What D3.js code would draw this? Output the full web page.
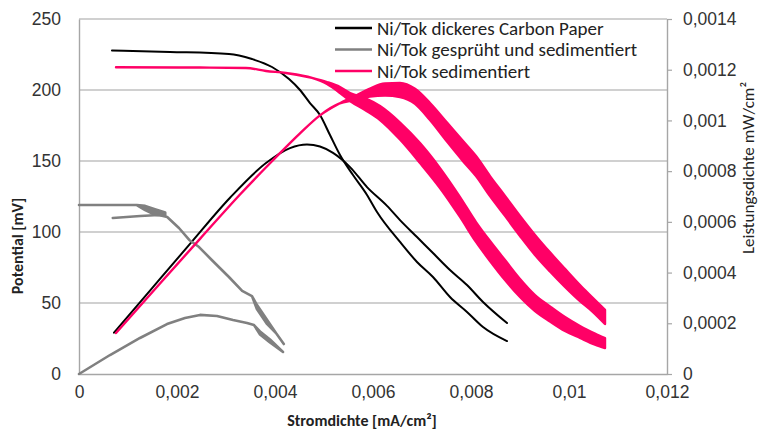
<!DOCTYPE html>
<html lang="de">
<head>
<meta charset="UTF-8">
<title>Ni/Tok Kennlinien</title>
<script src="https://d3js.org/d3.v7.min.js"></script>
<style>
  body { margin: 0; background: #fff; }
  svg { font-family: Carlito, Calibri, Lato, "Open Sans", sans-serif; }
  .tick text { font-size: 17.5px; fill: #333; }
  .title { font-size: 16px; fill: #222; }
  .legend text { font-size: 19px; fill: #222; }
</style>
</head>
<body>
<svg id="chart"></svg>
<script>
// tick values
const xTicks = [0, 0.002, 0.004, 0.006, 0.008, 0.01, 0.012];
const leftTicks = [0, 50, 100, 150, 200, 250];
const rightTicks = [0, 0.0002, 0.0004, 0.0006, 0.0008, 0.001, 0.0012, 0.0014];

const legendLabels = ["Ni/Tok dickeres Carbon Paper", "Ni/Tok gesprüht und sedimentiert", "Ni/Tok sedimentiert"];

// [Stromdichte mA/cm², Potential mV]
const blackPotential = [[0.000673,227.8],[0.001857,226.8],[0.003061,225.4],[0.003531,221.8],[0.003939,216.2],
  [0.004286,207.7],[0.00451,200],[0.004714,190.8],[0.004918,182.4],[0.005122,168.3],[0.005327,154.2],
  [0.005592,140.1],[0.005878,126.1],[0.006082,114.1],[0.006551,93],[0.006898,78.9],[0.007224,68.3],
  [0.007571,54.2],[0.007918,43.7],[0.008245,33.1],[0.008735,23.2]];
// [Stromdichte, Leistungsdichte mW/cm²]
const blackPower = [[0.000714,0.000163],[0.001449,0.000329],[0.002265,0.000513],[0.003082,0.000695],
  [0.003816,0.000832],[0.004306,0.000891],[0.004653,0.000905],[0.004918,0.000897],[0.005184,0.000872],
  [0.005531,0.000816],[0.005878,0.000737],[0.006286,0.000663],[0.006551,0.000607],[0.006898,0.00054],
  [0.007224,0.000477],[0.007571,0.00041],[0.007918,0.000351],[0.008245,0.000284],[0.008735,0.000201]];

// grau: Leerlaufabschnitt und Hauptmessung, [Stromdichte, Wert, Streuung]
const grayPotentialOcv = [[0,119],[0.00118,119],[0.00135,116.9,1.5],[0.00155,114.1,2],[0.00176,112.7,1]];
const grayPotential = [[0.00069,109.9],[0.00125,111.3],[0.00163,112],[0.0018,110.6],[0.00204,102.8],
  [0.00225,94.4],[0.00245,89.4],[0.00271,80.3],[0.00306,68.3],[0.00333,58.5],[0.00353,54.9],
  [0.00363,47.2,1.5],[0.00384,36.6,1.5],[0.00402,28.9],[0.00418,21.1]];
const grayPower = [[0,0],[0.000633,0.0000749],[0.001245,0.000142],[0.001796,0.000197],[0.002163,0.000221],
  [0.002469,0.000233],[0.002816,0.000229],[0.003143,0.000213],[0.003429,0.000201],[0.003571,0.000193],
  [0.003694,0.000162,0.000006],[0.003898,0.00013,0.000006],[0.004163,0.0000868]];

// rosa: [Stromdichte, Wert, Streuung (halbe Bandbreite)]
const pinkPotential = [[0.000755,216],[0.002469,215.8],[0.003408,215.5],[0.003816,213.4],[0.004224,212],
  [0.004755,208.5],[0.005061,204.9,0.7],[0.005327,200,2.1],[0.005531,195.1,2.8],[0.005837,190.1,4.2],
  [0.006143,183.8,4.9],[0.006551,171.1,6],[0.006959,155.6,7],[0.007367,138,7],[0.007776,117.6,7],
  [0.008102,100,7],[0.008388,86.6,7],[0.008694,73.2,7],[0.009,60.6,6.3],[0.009306,50,5.6],
  [0.009612,42.3,5.3],[0.009918,35.2,4.9],[0.010224,29.6,4.2],[0.01053,24.6,3.9],[0.010735,21.8,3.5]];
const pinkPower = [[0.000755,0.0001617],[0.001653,0.000357],[0.002469,0.000533],[0.003286,0.000708],
  [0.003939,0.000839],[0.00451,0.000949],[0.004918,0.00102],[0.005306,0.001066],[0.005633,0.001088,0.0000079],
  [0.005939,0.00111,0.0000158],[0.006245,0.001122,0.0000237],[0.006551,0.00112,0.0000276],[0.006857,0.001095,0.0000296],
  [0.007163,0.001035,0.0000335],[0.00751,0.000954,0.0000375],[0.007837,0.000879,0.0000394],[0.008102,0.00082,0.0000394],
  [0.008388,0.000741,0.0000394],[0.008694,0.000663,0.0000394],[0.009,0.000584,0.0000394],[0.009306,0.000509,0.0000394],
  [0.009612,0.000442,0.0000375],[0.009918,0.000379,0.0000355],[0.010224,0.000319,0.0000316],[0.01049,0.000272,0.0000276],
  [0.010735,0.000225,0.0000276]];

const width = 767, height = 432;
const margin = {top: 19, right: 100, bottom: 58, left: 79};
const colors = ["#000000", "#808080", "#ff0066"];
const gridColor = "#c0c0c0";

const svg = d3.select("#chart").attr("width", width).attr("height", height);

const x = d3.scaleLinear().domain([0, 0.012]).range([margin.left, width - margin.right]);
const yL = d3.scaleLinear().domain([0, 250]).range([height - margin.bottom, margin.top]);
const yR = d3.scaleLinear().domain([0, 0.0014]).range([height - margin.bottom, margin.top]);

const de = d3.formatLocale({decimal: ",", thousands: ".", grouping: [3], currency: ["", " €"]});
const fmt = de.format("~g");

// gridlines
svg.append("g")
  .selectAll("line")
  .data(leftTicks.filter(d => d > 0))
  .join("line")
  .attr("x1", x.range()[0]).attr("x2", x.range()[1])
  .attr("y1", d => yL(d)).attr("y2", d => yL(d))
  .attr("stroke", gridColor).attr("stroke-width", 1.4);

// axes
const gx = svg.append("g")
  .attr("transform", `translate(0,${height - margin.bottom})`)
  .call(d3.axisBottom(x).tickValues(xTicks).tickSize(0).tickSizeOuter(0).tickPadding(12).tickFormat(fmt));
const gl = svg.append("g")
  .attr("transform", `translate(${margin.left},0)`)
  .call(d3.axisLeft(yL).tickValues(leftTicks).tickSize(0).tickSizeOuter(0).tickPadding(18).tickFormat(fmt));
const gr = svg.append("g")
  .attr("transform", `translate(${width - margin.right},0)`)
  .call(d3.axisRight(yR).tickValues(rightTicks).tickSize(5).tickSizeOuter(0).tickPadding(11).tickFormat(fmt));
[gx, gl, gr].forEach(g => {
  g.select(".domain").attr("stroke", "#a6a6a6").attr("stroke-width", 1.4);
  g.selectAll(".tick line").attr("stroke", "#a6a6a6").attr("stroke-width", 1.2);
});

// curves
const lineL = d3.line().x(d => x(d[0])).y(d => yL(d[1]));
const lineR = d3.line().x(d => x(d[0])).y(d => yR(d[1]));
const bandL = d3.area().x(d => x(d[0])).y0(d => yL(d[1] - (d[2] || 0))).y1(d => yL(d[1] + (d[2] || 0)));
const bandR = d3.area().x(d => x(d[0])).y0(d => yR(d[1] - (d[2] || 0))).y1(d => yR(d[1] + (d[2] || 0)));

const plot = svg.append("g").attr("stroke-linejoin", "round").attr("stroke-linecap", "round");

plot.append("path").datum(blackPotential).attr("d", lineL.curve(d3.curveMonotoneX))
  .attr("fill", "none").attr("stroke", colors[0]).attr("stroke-width", 2);
plot.append("path").datum(blackPower).attr("d", lineR.curve(d3.curveMonotoneX))
  .attr("fill", "none").attr("stroke", colors[0]).attr("stroke-width", 2);

// gray: linear, slight noise band
[grayPotentialOcv, grayPotential].forEach(s => {
  plot.append("path").datum(s).attr("d", bandL.curve(d3.curveLinear))
    .attr("fill", colors[1]).attr("stroke", colors[1]).attr("stroke-width", 2.6);
});
plot.append("path").datum(grayPower).attr("d", bandR.curve(d3.curveLinear))
  .attr("fill", colors[1]).attr("stroke", colors[1]).attr("stroke-width", 2.6);

// pink: noisy band
plot.append("path").datum(pinkPotential).attr("d", bandL.curve(d3.curveMonotoneX))
  .attr("fill", colors[2]).attr("stroke", colors[2]).attr("stroke-width", 2.4);
plot.append("path").datum(pinkPower).attr("d", bandR.curve(d3.curveMonotoneX))
  .attr("fill", colors[2]).attr("stroke", colors[2]).attr("stroke-width", 2.4);

// axis titles
svg.append("text").attr("class", "title")
  .attr("transform", "translate(23,246) rotate(-90)")
  .attr("text-anchor", "middle").attr("font-weight", "bold")
  .text("Potential [mV]");
svg.append("text").attr("class", "title")
  .attr("transform", "translate(754,168) rotate(-90)")
  .attr("text-anchor", "middle").style("font-size", "17px")
  .text("Leistungsdichte mW/cm²");
svg.append("text").attr("class", "title")
  .attr("x", 362).attr("y", 426)
  .attr("text-anchor", "middle").attr("font-weight", "bold")
  .text("Stromdichte [mA/cm²]");

// legend
const legend = svg.append("g").attr("class", "legend").attr("transform", "translate(335,28)");
const rows = legend.selectAll("g").data(legendLabels).join("g")
  .attr("transform", (d, i) => `translate(0,${i * 21.5})`);
rows.append("line").attr("x1", 0).attr("x2", 37).attr("y1", 0).attr("y2", 0)
  .attr("stroke", (d, i) => colors[i]).attr("stroke-width", 2.4);
rows.append("text").attr("x", 42).attr("dy", "0.35em").text(d => d);
</script>
</body>
</html>
